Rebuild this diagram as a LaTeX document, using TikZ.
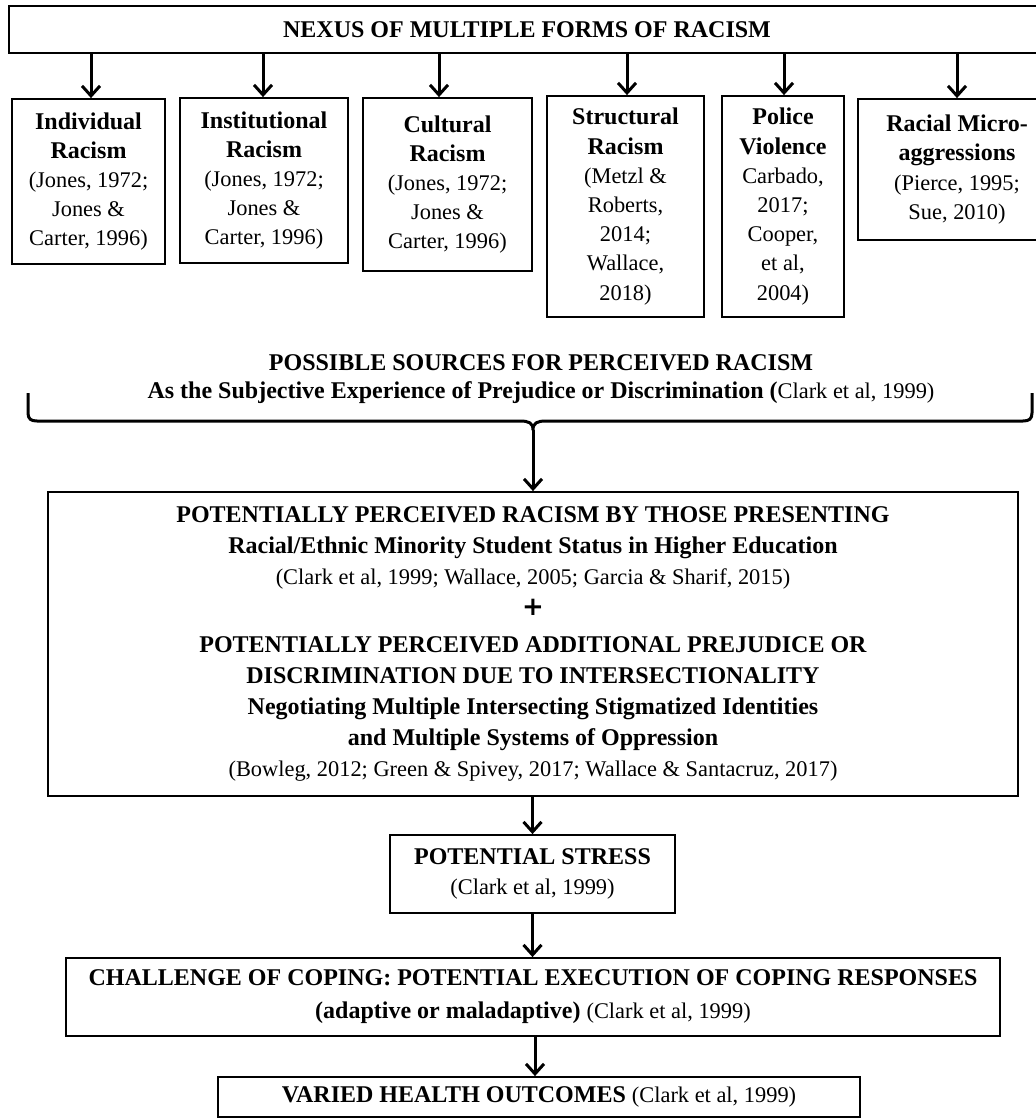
\documentclass[tikz,border=0pt]{standalone}
\usepackage{fontspec}
\setmainfont{Liberation Serif}
\newfontfamily\plusfont{DejaVu Sans}
\usetikzlibrary{arrows.meta,positioning,calc}
\newcommand{\citesize}{\mdseries\fontsize{11.2}{14.6}\selectfont}
\tikzset{
  box/.style    = {draw,line width=0.9pt,inner sep=0pt,align=center,
                   font=\fontsize{12}{14.6}\selectfont\bfseries},
  arrow/.style  = {-{Straight Barb[length=5pt,width=9pt]},line width=1.5pt},
  bracket/.style= {line width=1.5pt,line join=round},
}

\begin{document}
\begin{tikzpicture}[x=0.5pt,y=-0.5pt]
  \useasboundingbox (0,0) rectangle (1035,1119);

  % top: forms of racism
  \node[box,minimum width=518pt,minimum height=23.5pt] (nexus) at (527,29.5)
    {NEXUS OF MULTIPLE FORMS OF RACISM};
  \node[box,minimum width=76.5pt,minimum height=82.5pt] (indiv) at (88.5,181.5)
    {Individual\\Racism\\{\citesize (Jones, 1972;}\\{\citesize Jones \&}\\{\citesize Carter, 1996)}};
  \node[box,minimum width=84pt,minimum height=82.5pt] (inst) at (264,180.5)
    {Institutional\\Racism\\{\citesize (Jones, 1972;}\\{\citesize Jones \&}\\{\citesize Carter, 1996)}};
  \node[box,minimum width=84.5pt,minimum height=86.5pt] (cult) at (447.5,184.5)
    {Cultural\\Racism\\{\citesize (Jones, 1972;}\\{\citesize Jones \&}\\{\citesize Carter, 1996)}};
  \node[box,minimum width=78.5pt,minimum height=110.5pt] (struct) at (625.5,206.5)
    {Structural\\Racism\\{\citesize (Metzl \&}\\{\citesize Roberts,}\\{\citesize 2014;}\\{\citesize Wallace,}\\{\citesize 2018)}};
  \node[box,minimum width=61pt,minimum height=110.5pt] (police) at (783,206.5)
    {Police\\Violence\\{\citesize Carbado,}\\{\citesize 2017;}\\{\citesize Cooper,}\\{\citesize et al,}\\{\citesize 2004)}};
  \node[box,minimum width=99pt,minimum height=70.5pt] (micro) at (957,169.5)
    {Racial Micro-\\aggressions\\{\citesize (Pierce, 1995;}\\{\citesize Sue, 2010)}};
  \foreach \f/\dx in {indiv/2.5,inst/-1,cult/-8.5,struct/1.5,police/1,micro/0}
    \draw[arrow] ([xshift=\dx*0.5pt]\f.north |- nexus.south) -- ([xshift=\dx*0.5pt]\f.north);

  % sources and bracket
  \node[font=\fontsize{12}{14}\selectfont\bfseries,align=center,inner sep=0pt] (srcs) at (541,379)
    {POSSIBLE SOURCES FOR PERCEIVED RACISM\\
     As the Subjective Experience of Prejudice or Discrimination ({\citesize Clark et al, 1999)}};
  \draw[bracket] (28,393) -- (28,413) .. controls (28,419) and (31,421) .. (37,421)
    -- (520,421) .. controls (529,421) and (533,423) .. (533,430)
    .. controls (533,423) and (537,421) .. (546,421)
    -- (1023,421) .. controls (1029,421) and (1032,419) .. (1032,413) -- (1032,393);
  \coordinate (cusp) at (533,430);

  % perceived racism
  \node[box,font=\fontsize{12}{15.5}\selectfont\bfseries,minimum width=485pt,minimum height=152pt]
    (percv) at (533,644)
    {POTENTIALLY PERCEIVED RACISM BY THOSE PRESENTING\\
     Racial/Ethnic Minority Student Status in Higher Education\\
     {\citesize (Clark et al, 1999; Wallace, 2005; Garcia \& Sharif, 2015)}\\
     {\plusfont\bfseries\fontsize{13}{15.5}\selectfont +}\\[3pt]
     POTENTIALLY PERCEIVED ADDITIONAL PREJUDICE OR\\
     DISCRIMINATION DUE TO INTERSECTIONALITY\\
     Negotiating Multiple Intersecting Stigmatized Identities\\
     and Multiple Systems of Oppression\\
     {\citesize (Bowleg, 2012; Green \& Spivey, 2017; Wallace \& Santacruz, 2017)}};
  \draw[arrow] (cusp) -- (cusp |- percv.north);

  % chain below
  \node[box,minimum width=142.5pt,minimum height=39pt] (stress) at (532.5,874)
    {POTENTIAL STRESS\\{\citesize (Clark et al, 1999)}};
  \node[box,font=\fontsize{12}{16.5}\selectfont\bfseries,minimum width=467pt,minimum height=39pt]
    (coping) at (533,997)
    {CHALLENGE OF COPING: POTENTIAL EXECUTION OF COPING RESPONSES\\
     (adaptive or maladaptive) {\citesize (Clark et al, 1999)}};
  \node[box,minimum width=321pt,minimum height=20pt] (health) at (539,1097)
    {VARIED HEALTH OUTCOMES {\citesize (Clark et al, 1999)}};
  \draw[arrow] (stress.north |- percv.south) -- (stress.north);
  \draw[arrow] (stress.south) -- (stress.south |- coping.north);
  \draw[arrow] ([xshift=1pt]coping.south) -- ([xshift=1pt]coping.south |- health.north);
\end{tikzpicture}
\end{document}
